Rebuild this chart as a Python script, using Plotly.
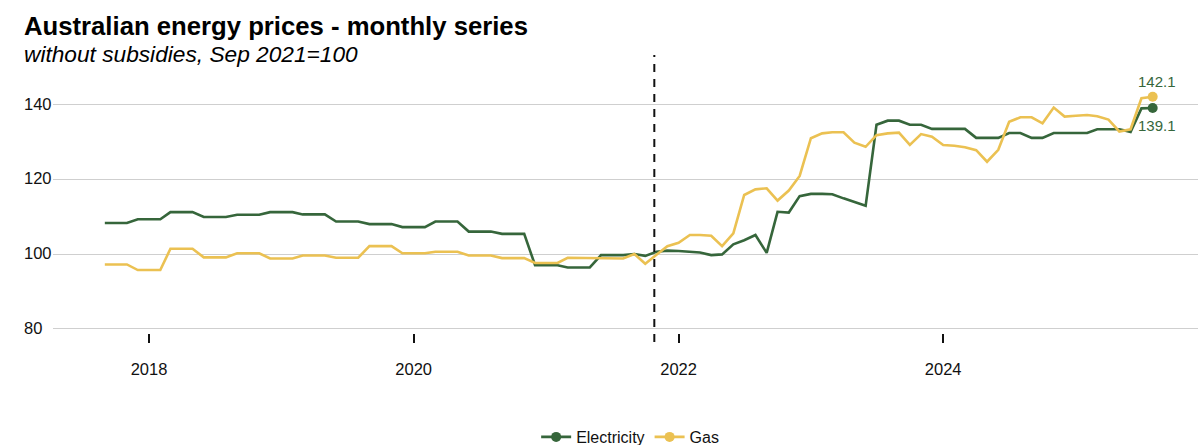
import pandas as pd
import plotly.graph_objects as go

# Monthly index values (Sep 2021 = 100), first observation Sep 2017
months = pd.date_range("2017-09-01", "2025-08-01", freq="MS")

electricity = [
    108.3, 108.3, 108.3, 109.3, 109.3, 109.3, 111.2, 111.2, 111.2,
    109.9, 109.9, 109.9, 110.5, 110.5, 110.5, 111.2, 111.2, 111.2,
    110.6, 110.6, 110.6, 108.7, 108.7, 108.7, 108.0, 108.0, 108.0,
    107.2, 107.2, 107.2, 108.7, 108.7, 108.7, 106.0, 106.0, 106.0,
    105.4, 105.4, 105.4, 97.0, 97.0, 97.0, 96.4, 96.4, 96.4,
    99.7, 99.7, 99.7,
    100.0, 99.5, 100.6, 100.9, 100.8, 100.5, 100.4, 99.7, 99.9, 102.6,
    103.7, 105.1, 100.3, 111.3, 111.1, 115.5, 116.1, 116.1, 116.0, 114.9,
    113.9, 112.9, 134.6, 135.7, 135.7, 134.6, 134.6, 133.5, 133.5, 133.5,
    133.5, 131.1, 131.1, 131.1, 132.4, 132.4, 131.1, 131.1, 132.4, 132.4,
    132.4, 132.4, 133.4, 133.4, 133.4, 132.7, 139.0, 139.1,
]

gas = [
    97.2, 97.2, 97.2, 95.7, 95.7, 95.7, 101.4, 101.4, 101.4,
    99.1, 99.1, 99.1, 100.2, 100.2, 100.2, 98.8, 98.8, 98.8,
    99.6, 99.6, 99.6, 99.0, 99.0, 99.0, 102.1, 102.1, 102.1,
    100.2, 100.2, 100.2, 100.6, 100.6, 100.6, 99.6, 99.6, 99.6,
    98.9, 98.9, 98.9, 97.6, 97.6, 97.6, 99.0, 99.0, 99.0,
    98.8, 98.8, 98.8,
    100.0, 97.4, 99.8, 102.1, 103.0, 105.1, 105.1, 104.9, 102.1, 105.5,
    115.8, 117.3, 117.6, 114.3, 117.0, 120.9, 131.0, 132.3, 132.6, 132.6,
    129.8, 128.7, 131.8, 132.3, 132.5, 129.2, 132.1, 131.4, 129.2, 129.0,
    128.6, 127.8, 124.7, 127.9, 135.4, 136.6, 136.6, 135.0, 139.2, 136.8,
    137.0, 137.2, 136.9, 136.0, 132.8, 133.4, 141.7, 142.1,
]

series_names = ["Electricity", "Gas"]
y_ticks = [80, 100, 120, 140]
x_ticks = ["2018-01-01", "2020-01-01", "2022-01-01", "2024-01-01"]
x_tick_labels = ["2018", "2020", "2022", "2024"]
marker_date = "2021-10-26"

GREEN = "#36663B"
YELLOW = "#EBC152"
FONT = "Liberation Sans, Arial, sans-serif"

fig = go.Figure()

for name, values, colour in [
    (series_names[0], electricity, GREEN),
    (series_names[1], gas, YELLOW),
]:
    fig.add_trace(go.Scatter(
        x=months, y=values, mode="lines", name=name,
        line=dict(color=colour, width=2.6),
        showlegend=False, hoverinfo="x+y",
    ))
    # end-point dot, also used as the legend entry
    fig.add_trace(go.Scatter(
        x=[months[-1]], y=[values[-1]], mode="lines+markers", name=name,
        line=dict(color=colour, width=2.6),
        marker=dict(color=colour, size=10),
        showlegend=True,
    ))

# Last-value labels
fig.add_annotation(x=months[-1], y=gas[-1], text=f"{gas[-1]:.1f}",
                   showarrow=False, xanchor="center", yanchor="middle",
                   xshift=4, yshift=15,
                   font=dict(family=FONT, size=15, color=GREEN))
fig.add_annotation(x=months[-1], y=electricity[-1], text=f"{electricity[-1]:.1f}",
                   showarrow=False, xanchor="center", yanchor="middle",
                   xshift=4, yshift=-18,
                   font=dict(family=FONT, size=15, color=GREEN))

# Reference date marker
fig.add_shape(type="line", xref="x", yref="paper",
              x0=marker_date, x1=marker_date, y0=-0.032, y1=1.0,
              line=dict(color="#111111", width=2, dash="8px,7px"))

# Left-aligned y-axis labels
for v in y_ticks:
    fig.add_annotation(x=-0.0271, xref="paper", y=v, yref="y", text=str(v),
                       showarrow=False, xanchor="left", yanchor="middle",
                       yshift=1, font=dict(family=FONT, size=16.5, color="#111111"))

# Title and subtitle
fig.add_annotation(x=-0.0271, xref="paper", y=1.105, yref="paper",
                   text="<b>Australian energy prices - monthly series</b>",
                   showarrow=False, xanchor="left", yanchor="middle",
                   font=dict(family=FONT, size=25.7, color="#000000"))
fig.add_annotation(x=-0.0271, xref="paper", y=1.005, yref="paper",
                   text="<i>without subsidies, Sep 2021=100</i>",
                   showarrow=False, xanchor="left", yanchor="middle",
                   font=dict(family=FONT, size=22.7, color="#000000"))

fig.update_layout(
    width=1198, height=445,
    margin=dict(l=53, r=0, t=55, b=112),
    paper_bgcolor="white", plot_bgcolor="white",
    font=dict(family=FONT, size=16.5, color="#111111"),
    showlegend=True,
    legend=dict(orientation="h", xref="container", yref="container",
                x=0.526, xanchor="center", y=0.018, yanchor="middle",
                font=dict(family=FONT, size=16, color="#111111"),
                bgcolor="rgba(0,0,0,0)", itemwidth=30),
    xaxis=dict(
        type="date", range=["2017-04-11", "2025-12-04"],
        tickvals=x_ticks, ticktext=x_tick_labels,
        ticks="outside", ticklen=9, tickwidth=1.5, tickcolor="#111111",
        ticklabelstandoff=12,
        showgrid=False, showline=False, zeroline=False,
        tickfont=dict(family=FONT, size=16.5, color="#111111"),
    ),
    yaxis=dict(
        range=[78.85, 153.28], tickvals=y_ticks, showticklabels=False,
        showgrid=True, gridcolor="#CFCFCF", gridwidth=1,
        zeroline=False, showline=False, ticks="",
    ),
)

fig.write_html("out.html")
